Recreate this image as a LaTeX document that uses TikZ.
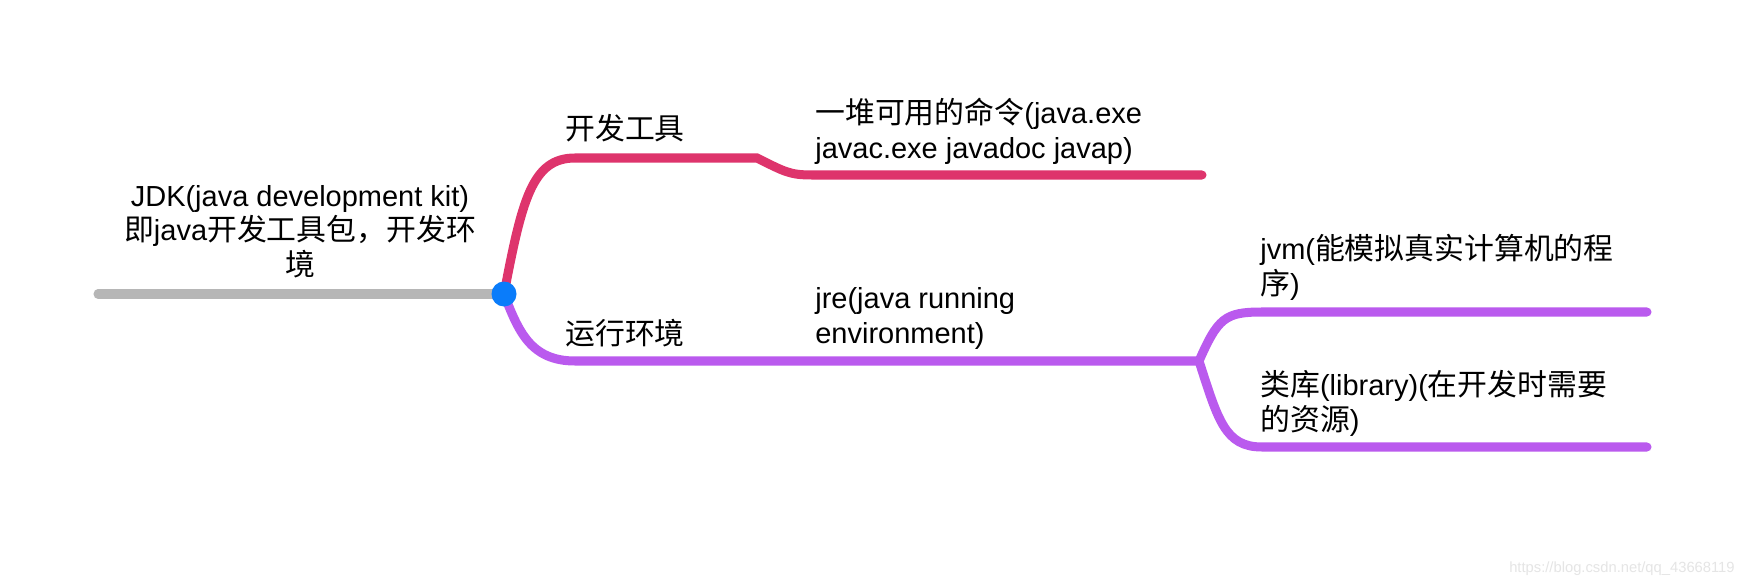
\documentclass[tikz,border=0pt]{standalone}
\usepackage{fontspec}
\setmainfont{Liberation Sans}
\newfontfamily\zhfont[Scale=1.03]{Noto Sans CJK SC}
\newcommand\zh[1]{{\zhfont #1}}
\usetikzlibrary{positioning}

\definecolor{toolred}{RGB}{222,52,108}
\definecolor{envpurple}{RGB}{186,90,238}
\definecolor{rootgray}{RGB}{182,182,182}
\definecolor{hubblue}{RGB}{10,124,250}

\begin{document}
\begin{tikzpicture}[x=0.02cm,y=-0.02cm,
  font=\fontsize{16.5}{19.6}\selectfont,
  label/.style={anchor=base west,align=left,inner sep=0pt},
  branch/.style={line width=9pt*0.57,line cap=round}]
\fill[white] (0,0) rectangle (1745,588);
\useasboundingbox (0,0) rectangle (1745,588);

% root and hub
\coordinate (rootStart) at (98,294);
\coordinate (hub) at (504,294);
\node[align=center,inner sep=0pt,anchor=base] (root) at (300,275) {JDK(java development kit)\\\zh{即}java\zh{开发工具包，开发环}\\\zh{境}};

% first level
\coordinate (toolsBend) at (757,158);
\coordinate (toolsEnd) at (1202,175);
\coordinate (envFork) at (1199,361);
\node[label] (tools) at (565,140) {\zh{开发工具}};
\node[label] (env) at (565,344) {\zh{运行环境}};

% second level
\coordinate (jvmEnd) at (1647,312);
\coordinate (libEnd) at (1647,447);
\node[label] (cmds) at (815,158) {\zh{一堆可用的命令}(java.exe\\javac.exe javadoc javap)};
\node[label] (jre) at (815,343) {jre(java running\\environment)};
\node[label] (jvm) at (1260,294) {jvm(\zh{能模拟真实计算机的程}\\\zh{序})};
\node[label] (lib) at (1260,430) {\zh{类库}(library)(\zh{在开发时需要}\\\zh{的资源})};

\draw[branch,rootgray] (rootStart) -- (hub);
\draw[branch,toolred] (hub) .. controls (522,200) and (532,158) .. (575,158) -- (toolsBend)
  .. controls (785,172) and (790,175) .. (812,175) -- (toolsEnd);
\draw[branch,envpurple] (hub) .. controls (518,330) and (530,361) .. (575,361) -- (envFork);
\draw[branch,envpurple] (envFork) .. controls (1218,318) and (1225,312) .. (1262,312) -- (jvmEnd);
\draw[branch,envpurple] (envFork) .. controls (1218,420) and (1225,447) .. (1262,447) -- (libEnd);
\fill[hubblue] (hub) circle (12.5);

\node[anchor=east,inner sep=0pt,text=black!10,font=\fontsize{8.4}{10}\selectfont] (mark) at (1735,569) {https://blog.csdn.net/qq\_43668119};
\end{tikzpicture}
\end{document}
